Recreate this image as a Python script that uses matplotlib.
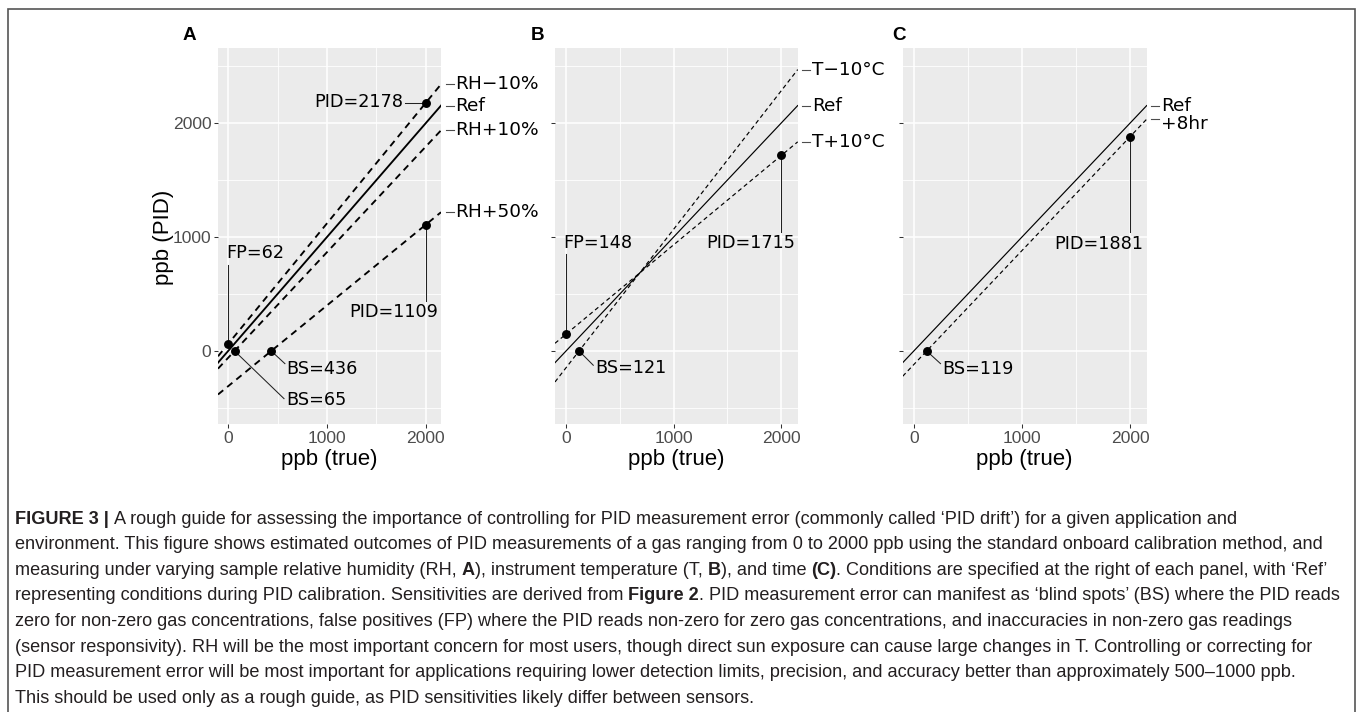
import matplotlib
matplotlib.use('Agg')
import matplotlib.pyplot as plt
from matplotlib.patches import Rectangle
from matplotlib.ticker import MultipleLocator

W, H = 1358, 712
X0, X1 = -102.5, 2152.5
Y0, Y1 = -643, 2655

# panel A: sample relative humidity
a_names = ['Ref', 'RH−10%', 'RH+10%', 'RH+50%']
a_slope = [1.0, 1.058, 0.927, 0.709]
a_icept = [0, 62, -60, -309]
a_dashed = [False, True, True, True]
a_nudge = [0, 0, 0, 0]
a_px = [2000, 0, 2000, 436, 65]
a_py = [2178, 62, 1109, 0, 0]
a_text = ['PID=2178', 'FP=62', 'PID=1109', 'BS=436', 'BS=65']
a_txy = [(1770, 2184), (-18, 857), (2128, 342), (592, -155), (592, -432)]
a_ha = ['right', 'left', 'right', 'left', 'left']
a_seg = [(1790, 2178), (0, 750), (2000, 442), (574, -111), (565, -418)]

# panel B: instrument temperature
b_names = ['Ref', 'T−10°C', 'T+10°C']
b_slope = [1.0, 1.215, 0.7835]
b_icept = [0, -147, 148]
b_dashed = [False, True, True]
b_nudge = [0, 0, 0]
b_px = [0, 121, 2000]
b_py = [148, 0, 1715]
b_text = ['FP=148', 'BS=121', 'PID=1715']
b_txy = [(-25, 947), (269, -149), (2124, 947)]
b_ha = ['left', 'left', 'right']
b_seg = [(0, 854), (253, -125), (2000, 1044)]

# panel C: time
c_names = ['Ref', '+8hr']
c_slope = [1.0, 1.0]
c_icept = [0, -119]
c_dashed = [False, True]
c_nudge = [0, -42]
c_px = [119, 2000]
c_py = [0, 1881]
c_text = ['BS=119', 'PID=1881']
c_txy = [(266, -155), (2124, 942)]
c_ha = ['left', 'right']
c_seg = [(247, -111), (2000, 1044)]

caption = [
    [('FIGURE 3 |', True), (' A rough guide for assessing the importance of controlling for PID measurement error (commonly called ‘PID drift’) for a given application and', False)],
    [('environment. This figure shows estimated outcomes of PID measurements of a gas ranging from 0 to 2000 ppb using the standard onboard calibration method, and', False)],
    [('measuring under varying sample relative humidity (RH, ', False), ('A', True), ('), instrument temperature (T, ', False), ('B', True),
     ('), and time ', False), ('(C)', True), ('. Conditions are specified at the right of each panel, with ‘Ref’', False)],
    [('representing conditions during PID calibration. Sensitivities are derived from ', False), ('Figure 2', True),
     ('. PID measurement error can manifest as ‘blind spots’ (BS) where the PID reads', False)],
    [('zero for non-zero gas concentrations, false positives (FP) where the PID reads non-zero for zero gas concentrations, and inaccuracies in non-zero gas readings', False)],
    [('(sensor responsivity). RH will be the most important concern for most users, though direct sun exposure can cause large changes in T. Controlling or correcting for', False)],
    [('PID measurement error will be most important for applications requiring lower detection limits, precision, and accuracy better than approximately 500–1000 ppb.', False)],
    [('This should be used only as a rough guide, as PID sensitivities likely differ between sensors.', False)],
]

SANS = 'Liberation Sans'
fig = plt.figure(figsize=(W / 100, H / 100), dpi=100)


def px_axes(left, right, top, bottom):
    return fig.add_axes([left / W, 1 - bottom / H, (right - left) / W, (bottom - top) / H])


def panel(ax, width_px, names, slope, icept, dashed, nudge, lw, px, py, texts, txy, ha, seg, ylabels):
    ax.set_facecolor('#EBEBEB')
    ax.set_xlim(X0, X1)
    ax.set_ylim(Y0, Y1)
    for axis in (ax.xaxis, ax.yaxis):
        axis.set_major_locator(MultipleLocator(1000))
        axis.set_minor_locator(MultipleLocator(500))
    ax.grid(which='major', color='white', lw=1.15)
    ax.grid(which='minor', color='white', lw=0.6)
    ax.set_axisbelow(True)
    for s in ax.spines.values():
        s.set_visible(False)
    ax.tick_params(which='major', length=2.9, width=0.75, color='#333333',
                   labelcolor='#4D4D4D', labelsize=12.6, pad=1.8)
    ax.tick_params(which='minor', length=0)
    for lab in ax.get_xticklabels() + ax.get_yticklabels():
        lab.set_family(SANS)
    if not ylabels:
        ax.tick_params(labelleft=False)

    for m, b, d in zip(slope, icept, dashed):
        kw = dict(color='black', lw=lw, zorder=3)
        if d:
            kw['dashes'] = (3.6, 2.7)
        ax.axline((0, b), slope=m, **kw)

    for x, y, t, (tx, ty), h, (sx, sy) in zip(px, py, texts, txy, ha, seg):
        ax.plot([sx, x], [sy, y], color='#222222', lw=0.75, zorder=4)
        ax.text(tx, ty, t, ha=h, va='center', fontsize=12.7, family='DejaVu Sans', zorder=6)
    ax.plot(px, py, 'o', color='black', ms=5.4, zorder=5)

    # condition labels at the right end of each line
    tr = ax.get_yaxis_transform()
    for name, m, b, n in zip(names, slope, icept, nudge):
        y = m * X1 + b
        ax.plot([1 + 4.5 / width_px, 1 + 12.5 / width_px], [y, y], transform=tr,
                clip_on=False, color='#4D4D4D', lw=0.8)
        ax.text(1 + 14.5 / width_px, y + n, name, transform=tr, ha='left', va='center',
                fontsize=13.3, family='DejaVu Sans', clip_on=False)


geo = [(218, 441), (555, 797.7), (902.7, 1146.7)]
TOP, BOT = 48.3, 424.3
axA = px_axes(geo[0][0], geo[0][1], TOP, BOT)
axB = px_axes(geo[1][0], geo[1][1], TOP, BOT)
axC = px_axes(geo[2][0], geo[2][1], TOP, BOT)

panel(axA, geo[0][1] - geo[0][0], a_names, a_slope, a_icept, a_dashed, a_nudge, 1.35,
      a_px, a_py, a_text, a_txy, a_ha, a_seg, True)
panel(axB, geo[1][1] - geo[1][0], b_names, b_slope, b_icept, b_dashed, b_nudge, 0.85,
      b_px, b_py, b_text, b_txy, b_ha, b_seg, False)
panel(axC, geo[2][1] - geo[2][0], c_names, c_slope, c_icept, c_dashed, c_nudge, 0.85,
      c_px, c_py, c_text, c_txy, c_ha, c_seg, False)

for (l, r), letter, lx in zip(geo, ['A', 'B', 'C'], [189.7, 537.5, 898.8]):
    fig.text((l + r) / 2 / W, 1 - 459 / H, 'ppb (true)', ha='center', va='center',
             fontsize=16, family=SANS)
    fig.text(lx / W, 1 - 36 / H, letter, ha='center', va='center', fontsize=13.6,
             fontweight='bold', family=SANS)
fig.text(163 / W, 1 - 237 / H, 'ppb (PID)', ha='center', va='center', rotation=90,
         fontsize=16, family=SANS)

# outer frame (open at the bottom edge of the image)
fig.patches.append(Rectangle((8 / W, -0.05), (1355 - 8) / W, 1.05 - 9 / H,
                             transform=fig.transFigure, fill=False, ec='#555555',
                             lw=1.2, clip_on=False))

# caption, with bold runs placed one after another
renderer = fig.canvas.get_renderer()


def text_width(s, size, bold):
    t = fig.text(0, 0, s, fontsize=size, family=SANS, fontweight='bold' if bold else 'normal')
    w = t.get_window_extent(renderer).width
    t.remove()
    return w


probe = caption[1][0][0]
cap_size = 13.0 * 1308 / text_width(probe, 13.0, False)
space_w = {False: text_width('a a', cap_size, False) - text_width('aa', cap_size, False),
           True: text_width('a a', cap_size, True) - text_width('aa', cap_size, True)}

x_start, y_first, line_gap = 15, 517, 25.6
for i, chunks in enumerate(caption):
    x = x_start
    y = y_first + i * line_gap
    for s, bold in chunks:
        core = s.strip(' ')
        lead = len(s) - len(s.lstrip(' '))
        trail = len(s) - len(s.rstrip(' '))
        x += lead * space_w[bold]
        fig.text(x / W, 1 - y / H, core, ha='left', va='center_baseline', fontsize=cap_size,
                 family=SANS, color='#231F20', fontweight='bold' if bold else 'normal')
        x += text_width(core, cap_size, bold) + trail * space_w[bold]

fig.savefig('out.png', dpi=100, facecolor='white')
